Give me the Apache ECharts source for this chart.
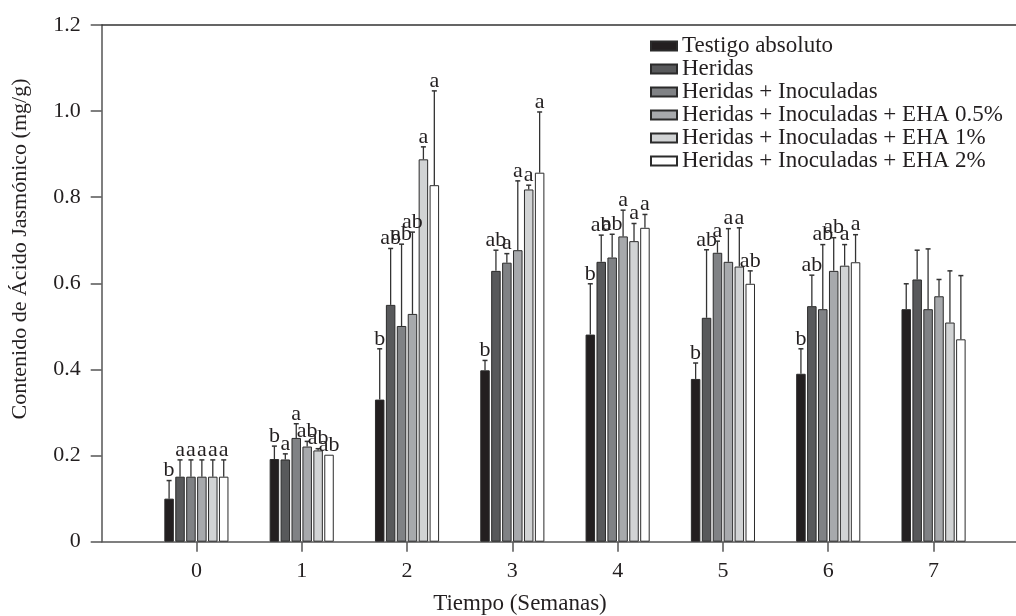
<!DOCTYPE html>
<html>
<head>
<meta charset="utf-8">
<script src="https://cdn.jsdelivr.net/npm/echarts@6/dist/echarts.min.js"></script>
<style>html,body{margin:0;padding:0;background:#fff}#c{width:1016px;height:616px}</style>
</head>
<body>
<div id="c"></div>
<script>
// ---- data ----
var weeks = ['0', '1', '2', '3', '4', '5', '6', '7'];
var yTickLabels = ['0', '0.2', '0.4', '0.6', '0.8', '1.0', '1.2'];
var seriesNames = [
  'Testigo absoluto',
  'Heridas',
  'Heridas + Inoculadas',
  'Heridas + Inoculadas + EHA 0.5%',
  'Heridas + Inoculadas + EHA 1%',
  'Heridas + Inoculadas + EHA 2%'
];
var testigo  = [0.100, 0.192, 0.330, 0.398, 0.481, 0.378, 0.390, 0.540];
var heridas  = [0.151, 0.191, 0.550, 0.629, 0.650, 0.520, 0.547, 0.609];
var inoc     = [0.151, 0.241, 0.501, 0.648, 0.660, 0.671, 0.540, 0.540];
var eha05    = [0.151, 0.221, 0.529, 0.677, 0.709, 0.650, 0.629, 0.570];
var eha1     = [0.151, 0.212, 0.888, 0.818, 0.698, 0.639, 0.641, 0.509];
var eha2     = [0.151, 0.202, 0.828, 0.857, 0.729, 0.599, 0.649, 0.470];

var testigoSE = [0.042, 0.030, 0.118, 0.023, 0.118, 0.037, 0.058, 0.059];
var heridasSE = [0.039, 0.013, 0.131, 0.048, 0.062, 0.158, 0.072, 0.068];
var inocSE    = [0.039, 0.033, 0.190, 0.021, 0.054, 0.027, 0.150, 0.140];
var eha05SE   = [0.039, 0.012, 0.190, 0.161, 0.061, 0.077, 0.077, 0.039];
var eha1SE    = [0.039, 0.004, 0.029, 0.010, 0.041, 0.090, 0.049, 0.120];
var eha2SE    = [0.039, 0.000, 0.219, 0.141, 0.031, 0.030, 0.064, 0.148];

var testigoL = ['b', 'b', 'b', 'b', 'b', 'b', 'b', ''];
var heridasL = ['a', 'a', 'ab', 'ab', 'ab', 'ab', 'ab', ''];
var inocL    = ['a', 'a', 'ab', 'a', 'ab', 'a', 'ab', ''];
var eha05L   = ['a', 'ab', 'ab', 'a', 'a', 'a', 'ab', ''];
var eha1L    = ['a', 'ab', 'a', 'a', 'a', 'a', 'a', ''];
var eha2L    = ['a', 'ab', 'a', 'a', 'a', 'ab', 'a', ''];

// ---- styling ----
var colors = ['#231f20', '#58595b', '#808285', '#a7a9ac', '#d1d3d4', '#ffffff'];
var FONT = "'Liberation Serif', 'Times New Roman', serif";
var TXT = '#231f20';
var AXIS = '#555555';
var BAR_W = 9.5, BAR_GAP = 0.15;
var PITCH = BAR_W * (1 + BAR_GAP);

var means = [testigo, heridas, inoc, eha05, eha1, eha2];
var ses = [testigoSE, heridasSE, inocSE, eha05SE, eha1SE, eha2SE];
var letters = [testigoL, heridasL, inocL, eha05L, eha1L, eha2L];

var errData = [], errLetters = [];
for (var t = 0; t < 6; t++) {
  for (var w = 0; w < weeks.length; w++) {
    errData.push([w, means[t][w], means[t][w] + ses[t][w], t]);
    errLetters.push(letters[t][w]);
  }
}

var barSeries = seriesNames.map(function (name, i) {
  return {
    name: name, type: 'bar', xAxisIndex: 0, yAxisIndex: 0,
    data: means[i], barWidth: BAR_W, barGap: (BAR_GAP * 100) + '%',
    itemStyle: { color: colors[i], borderColor: '#2b2b2b', borderWidth: 1 },
    z: 2
  };
});

var chart = echarts.init(document.getElementById('c'), null, { renderer: 'canvas' });
chart.setOption({
  animation: false,
  backgroundColor: '#fff',
  textStyle: { fontFamily: FONT, color: TXT },
  grid: [
    { left: 143.75, right: 29.8, top: 25, bottom: 74.3, outerBoundsMode: 'none', containLabel: false },
    { left: 101.7, right: 0, top: 25, bottom: 74.3, outerBoundsMode: 'none', containLabel: false }
  ],
  legend: {
    orient: 'vertical', left: 650, top: 34.5, itemGap: 0, padding: 0,
    itemWidth: 26, itemHeight: 9, icon: 'rect',
    data: seriesNames,
    textStyle: { fontFamily: FONT, fontSize: 23, color: TXT, lineHeight: 23 }
  },
  xAxis: [
    {
      type: 'category', gridIndex: 0, data: weeks, boundaryGap: true,
      axisLine: { show: false },
      axisTick: { show: true, alignWithLabel: true, length: 10, lineStyle: { color: AXIS, width: 1.5 } },
      axisLabel: { fontFamily: FONT, fontSize: 22, color: TXT, margin: 19 },
      splitLine: { show: false }
    },
    {
      type: 'value', gridIndex: 1, min: 0, max: 1, position: 'bottom',
      axisLine: { show: true, onZero: false, lineStyle: { color: AXIS, width: 1.5 } },
      axisTick: { show: false }, axisLabel: { show: false }, splitLine: { show: false }
    },
    {
      type: 'value', gridIndex: 1, min: 0, max: 1, position: 'top',
      axisLine: { show: true, onZero: false, lineStyle: { color: '#333', width: 1.5 } },
      axisTick: { show: false }, axisLabel: { show: false }, splitLine: { show: false }
    }
  ],
  yAxis: [
    { type: 'value', gridIndex: 0, min: 0, max: 1.2, interval: 0.2, show: false },
    {
      type: 'value', gridIndex: 1, min: 0, max: 1.2, interval: 0.2,
      axisLine: { show: true, lineStyle: { color: AXIS, width: 1.5 } },
      axisTick: { show: true, length: 11, lineStyle: { color: AXIS, width: 1.5 } },
      axisLabel: {
        fontFamily: FONT, fontSize: 22, color: TXT, margin: 21,
        formatter: function (v) { return yTickLabels[Math.round(v / 0.2)]; }
      },
      splitLine: { show: false }
    }
  ],
  graphic: [
    {
      type: 'text', x: 20, y: 249, rotation: Math.PI / 2,
      style: { text: 'Contenido de Ácido Jasmónico (mg/g)', font: '22px ' + FONT, fill: TXT, align: 'center', verticalAlign: 'middle' }
    },
    {
      type: 'text', x: 520, y: 604,
      style: { text: 'Tiempo (Semanas)', font: '23px ' + FONT, fill: TXT, align: 'center', verticalAlign: 'middle' }
    }
  ],
  series: barSeries.concat([{
    type: 'custom', name: 'err', xAxisIndex: 0, yAxisIndex: 0, z: 5,
    data: errData,
    encode: { x: 0, y: [1, 2] },
    renderItem: function (params, api) {
      var w = api.value(0), m = api.value(1), top = api.value(2), t = api.value(3);
      var base = api.coord([w, m]);
      var tp = api.coord([w, top]);
      var x = base[0] + (t - 2.5) * PITCH;
      var children = [];
      if (tp[1] < base[1] - 0.5) {
        children.push({ type: 'line', shape: { x1: x, y1: base[1], x2: x, y2: tp[1] }, style: { stroke: '#333', lineWidth: 1.3 } });
        children.push({ type: 'line', shape: { x1: x - 2.5, y1: tp[1], x2: x + 2.5, y2: tp[1] }, style: { stroke: '#333', lineWidth: 1.5 } });
      }
      var lab = errLetters[params.dataIndex];
      if (lab) {
        children.push({ type: 'text', x: x, y: tp[1] + 1, style: { text: lab, font: '22px ' + FONT, fill: TXT, align: 'center', verticalAlign: 'bottom' } });
      }
      return { type: 'group', children: children };
    }
  }])
});
</script>
</body>
</html>
